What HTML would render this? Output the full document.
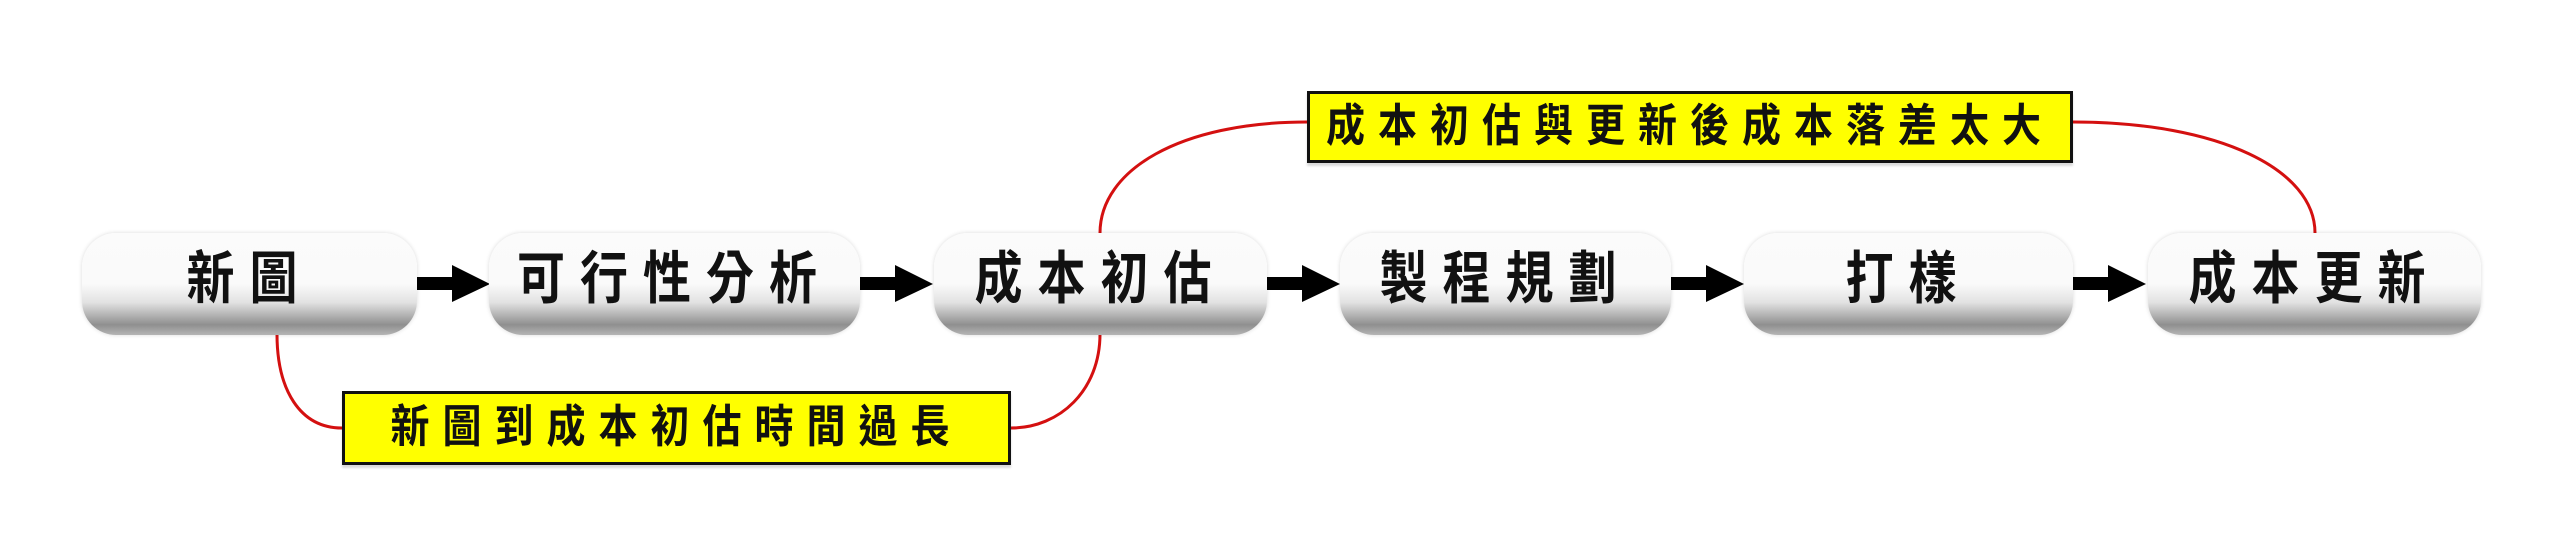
<!DOCTYPE html>
<html><head><meta charset="utf-8"><style>
body{margin:0;width:2556px;height:542px;background:#fff;position:relative;overflow:hidden;font-family:"Liberation Sans","Noto Sans CJK TC",sans-serif;}
.b{position:absolute;top:233px;height:102px;border-radius:34px;background:linear-gradient(#fbfbfb 0%,#fafafa 50%,#e2e2e2 68%,#8f8f8f 90%,#b5b5b5 100%);box-shadow:0 0 4px rgba(0,0,0,0.15);}
.t{position:absolute;left:0;right:0;top:0;height:102px;line-height:96px;text-align:center;font-size:48px;font-weight:bold;letter-spacing:15px;color:#111;transform:scaleY(1.18);}
.y{position:absolute;background:#ffff00;border:3px solid #111;box-sizing:border-box;text-align:center;font-weight:bold;color:#111;font-size:39px;letter-spacing:13px;box-shadow:0 3px 2px rgba(0,0,0,0.15);}
.y span{display:inline-block;transform:scaleY(1.15);}
svg{position:absolute;left:0;top:0;}
</style></head><body>
<svg width="2556" height="542">
<g fill="none" stroke="#d41010" stroke-width="3">
<path d="M277 334 C277 390 300 428 342 428"/>
<path d="M1011 428 C1060 428 1100 390 1100 334"/>
<path d="M1100 233 C1100 170 1180 122 1307 122"/>
<path d="M2073 122 C2220 122 2315 170 2315 233"/>
</g>
<g fill="#000">
<path d="M417 277 H452 V265 L490 284 L452 302 V290 H417 Z"/>
<path d="M860 277 H895 V265 L933 284 L895 302 V290 H860 Z"/>
<path d="M1267 277 H1302 V265 L1340 284 L1302 302 V290 H1267 Z"/>
<path d="M1671 277 H1706 V265 L1744 284 L1706 302 V290 H1671 Z"/>
<path d="M2073 277 H2108 V265 L2146 284 L2108 302 V290 H2073 Z"/>
</g>
</svg>
<div class="b" style="left:82px;width:335px"><div class="t">新圖</div></div>
<div class="b" style="left:489px;width:371px"><div class="t">可行性分析</div></div>
<div class="b" style="left:934px;width:333px"><div class="t">成本初估</div></div>
<div class="b" style="left:1340px;width:331px"><div class="t">製程規劃</div></div>
<div class="b" style="left:1744px;width:329px"><div class="t">打樣</div></div>
<div class="b" style="left:2148px;width:333px"><div class="t">成本更新</div></div>
<div class="y" style="left:342px;top:391px;width:669px;height:74px;line-height:68px"><span>新圖到成本初估時間過長</span></div>
<div class="y" style="left:1307px;top:91px;width:766px;height:72px;line-height:66px"><span>成本初估與更新後成本落差太大</span></div>
</body></html>
